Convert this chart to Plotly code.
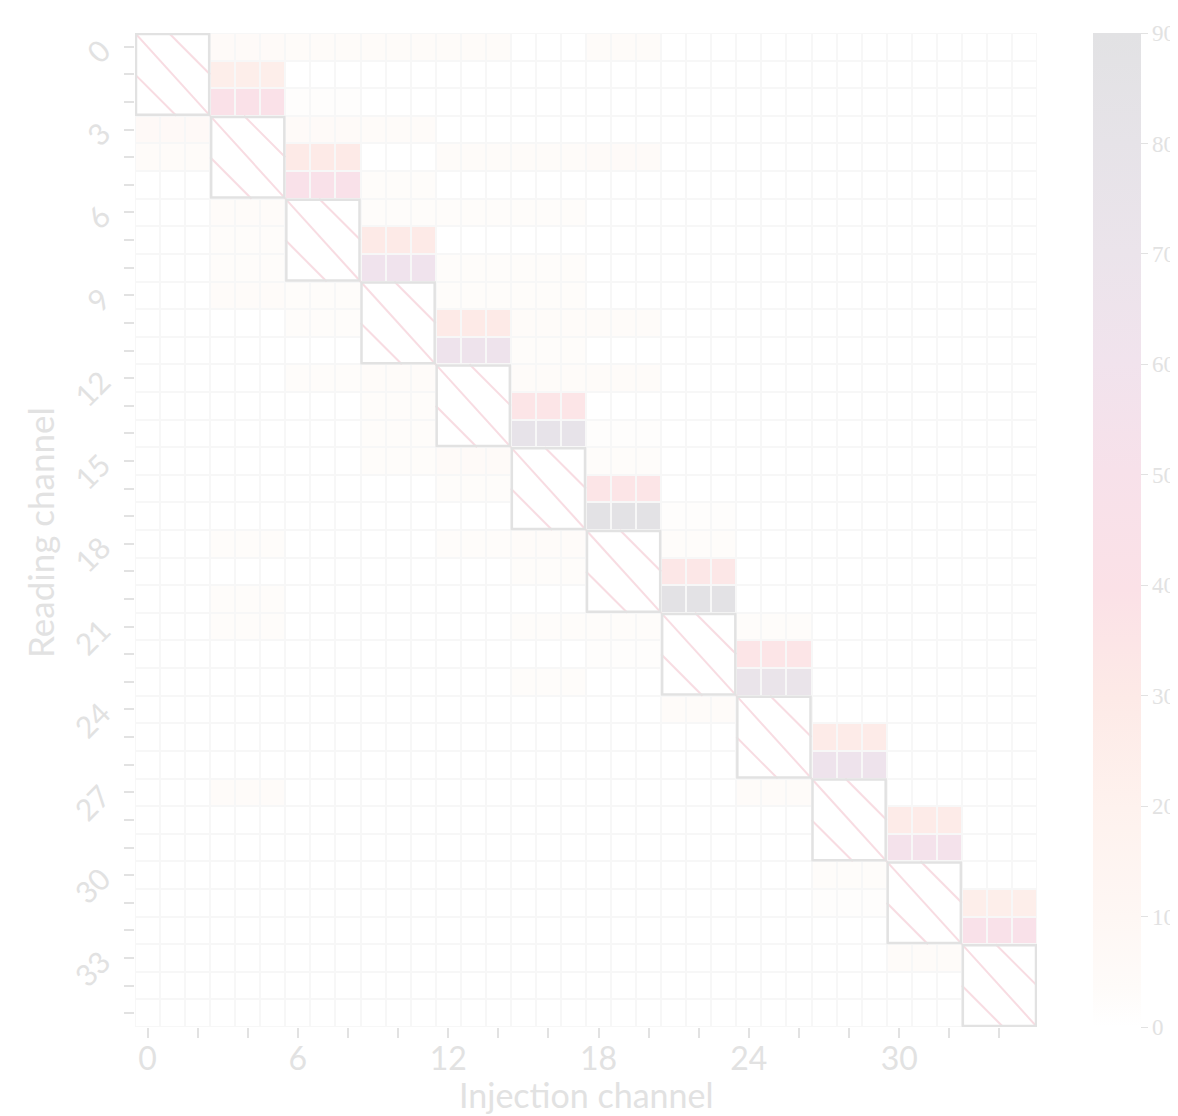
import numpy as np
import plotly.graph_objects as go

# ---------------- data ----------------
n_channels = 36
block_size = 3
channels = list(range(n_channels))

# coupling into the next block (row 3i+1 and row 3i+2 of block i, columns of block i+1)
near_row_values = [25, 30, 30, 30, 35, 35, 33, 35, 28, 28, 25]
far_row_values = [42, 45, 62, 65, 78, 88, 88, 72, 65, 55, 45]

# faint crosstalk strips: reading row, first injection column of a 3-wide strip, value
faint_rows = [0, 0, 0, 0, 0, 2, 3, 3, 3, 4, 4, 4, 4, 5, 6, 6, 6, 6, 7, 8, 8, 8,
              9, 9, 9, 9, 10, 10, 10, 11, 12, 12, 12, 12, 13, 14, 14, 15, 15, 15,
              16, 17, 18, 18, 18, 18, 19, 20, 21, 21, 21, 21, 22, 23, 24, 27, 27,
              30, 31, 33]
faint_cols = [3, 6, 9, 12, 18, 6, 0, 6, 9, 0, 12, 15, 18, 9, 3, 9, 12, 15, 3, 3, 12, 15,
              3, 6, 12, 15, 6, 15, 18, 15, 6, 9, 15, 18, 9, 9, 18, 9, 12, 18,
              12, 21, 3, 12, 15, 21, 15, 3, 3, 15, 18, 24, 18, 15, 21, 3, 24,
              27, 27, 30]
faint_vals = [5, 4, 4, 4, 4, 2, 6, 5, 4, 4, 4, 4, 5, 3, 4, 3, 3, 3, 3, 3, 3, 3,
              4, 3, 3, 3, 3, 4, 4, 3, 3, 4, 4, 4, 3, 3, 2, 3, 5, 3,
              3, 2, 3, 3, 4, 3, 3, 3, 3, 3, 3, 3, 2, 3, 4, 4, 4,
              3, 2, 4]

x_tick_labels = [str(v) for v in range(0, 36, 6)]
y_tick_labels = [str(v) for v in range(0, 36, 3)]
cbar_ticks = list(range(0, 91, 10))

# ---------------- matrix ----------------
z = np.zeros((n_channels, n_channels))
for r, c, v in zip(faint_rows, faint_cols, faint_vals):
    z[r, c:c + block_size] = v
for i, (a, b) in enumerate(zip(near_row_values, far_row_values)):
    r0 = i * block_size
    c0 = r0 + block_size
    z[r0 + 1, c0:c0 + block_size] = a
    z[r0 + 2, c0:c0 + block_size] = b
n_blocks = n_channels // block_size
for i in range(n_blocks):
    s = i * block_size
    z[s:s + block_size, s:s + block_size] = np.nan

colorscale = [
    [0.00, "#ffffff"],
    [0.04, "#fefbf9"],
    [0.11, "#fef7f4"],
    [0.22, "#fef2ee"],
    [0.33, "#fdeae7"],
    [0.44, "#fbe1e7"],
    [0.56, "#f7e1ea"],
    [0.67, "#f1e3ed"],
    [0.78, "#ebe4eb"],
    [0.89, "#e6e3e8"],
    [1.00, "#e2e2e4"],
]

txt = "#e2e2e2"
sans = "Lato, 'Open Sans', sans-serif"
serif = "'Liberation Serif', 'DejaVu Serif', serif"

# the page body adds an 8px offset; work in figure pixels
OFF = 8
W, H = 1178, 1116
L, T = 135 - OFF, 33 - OFF
R = W - (1037 - OFF)
B = H - (1027 - OFF)
pw = W - L - R
ph = H - T - B

fig = go.Figure()
fig.add_trace(go.Heatmap(
    z=z, x=channels, y=channels,
    colorscale=colorscale, zmin=0, zmax=90,
    xgap=2, ygap=2, hoverongaps=False,
    colorbar=dict(
        x=((1093 - OFF) - L) / pw, xanchor="left", xpad=0,
        y=0.5, yanchor="middle", len=1, lenmode="fraction", ypad=0,
        thickness=48, outlinewidth=0,
        tickmode="array", tickvals=cbar_ticks,
        ticktext=[str(v) for v in cbar_ticks],
        ticks="outside", ticklen=7, tickcolor=txt, tickwidth=1,
        tickfont=dict(family=serif, size=23, color=txt),
    ),
))

# diagonal blocks: white squares with hatch
shapes = []
for i in range(n_blocks):
    x0 = i * block_size - 0.5
    x1 = x0 + block_size
    y0, y1 = x0, x1
    w = x1 - x0
    h = y1 - y0
    shapes.append(dict(type="rect", xref="x", yref="y", x0=x0, x1=x1, y0=y0, y1=y1,
                       fillcolor="white", line=dict(width=0), layer="above"))
    hatch = [
        (x0, y0, x1, y1),
        (x0 + 0.45 * w, y0, x1, y0 + 0.5 * h),
        (x0, y0 + 0.5 * h, x0 + 0.55 * w, y1),
    ]
    for (a0, b0, a1, b1) in hatch:
        shapes.append(dict(type="line", xref="x", yref="y", x0=a0, y0=b0, x1=a1, y1=b1,
                           line=dict(color="#f8dce2", width=2), layer="above"))
for i in range(n_blocks):
    x0 = i * block_size - 0.5
    x1 = x0 + block_size
    shapes.append(dict(type="rect", xref="x", yref="y", x0=x0 + 0.04, x1=x1 - 0.04,
                       y0=x0 + 0.04, y1=x1 - 0.04,
                       fillcolor="rgba(0,0,0,0)", line=dict(color="#e2e2e2", width=2.5), layer="above"))

annotations = [
    dict(text="Injection channel", xref="paper", yref="paper",
         x=0.5, y=(T + ph - (1094 - OFF)) / ph, xanchor="center", yanchor="middle",
         showarrow=False, font=dict(family=sans, size=34, color=txt)),
    dict(text="Reading channel", xref="paper", yref="paper",
         x=((40 - OFF) - L) / pw, y=0.497, xanchor="center", yanchor="middle", textangle=-90,
         showarrow=False, font=dict(family=sans, size=35, color=txt)),
]

fig.update_layout(
    width=W, height=H,
    margin=dict(l=L, r=R, t=T, b=B, autoexpand=False),
    paper_bgcolor="white",
    plot_bgcolor="#f7f7f7",
    shapes=shapes,
    annotations=annotations,
    showlegend=False,
)
fig.update_xaxes(
    range=[-0.5, n_channels - 0.5], showgrid=False, zeroline=False, showline=False,
    automargin=False,
    tickmode="array", tickvals=list(range(0, 36, 6)), ticktext=x_tick_labels,
    ticks="outside", ticklen=10, tickcolor=txt, tickwidth=1.5, ticklabelstandoff=-6,
    minor=dict(tickmode="array", tickvals=list(range(0, 36, 2)), ticks="outside",
               ticklen=10, tickcolor=txt, tickwidth=1.5, showgrid=False),
    tickfont=dict(family=sans, size=32, color=txt),
)
fig.update_yaxes(
    range=[n_channels - 0.5, -0.5], showgrid=False, zeroline=False, showline=False,
    automargin=False,
    tickmode="array", tickvals=list(range(0, 36, 3)), ticktext=y_tick_labels,
    tickangle=-45, ticklabelstandoff=16,
    ticks="outside", ticklen=10, tickcolor=txt, tickwidth=1.5,
    minor=dict(tickmode="array", tickvals=list(range(0, 36, 1)), ticks="outside",
               ticklen=10, tickcolor=txt, tickwidth=1.5, showgrid=False),
    tickfont=dict(family=sans, size=30, color=txt),
)

fig.write_html("out.html")
